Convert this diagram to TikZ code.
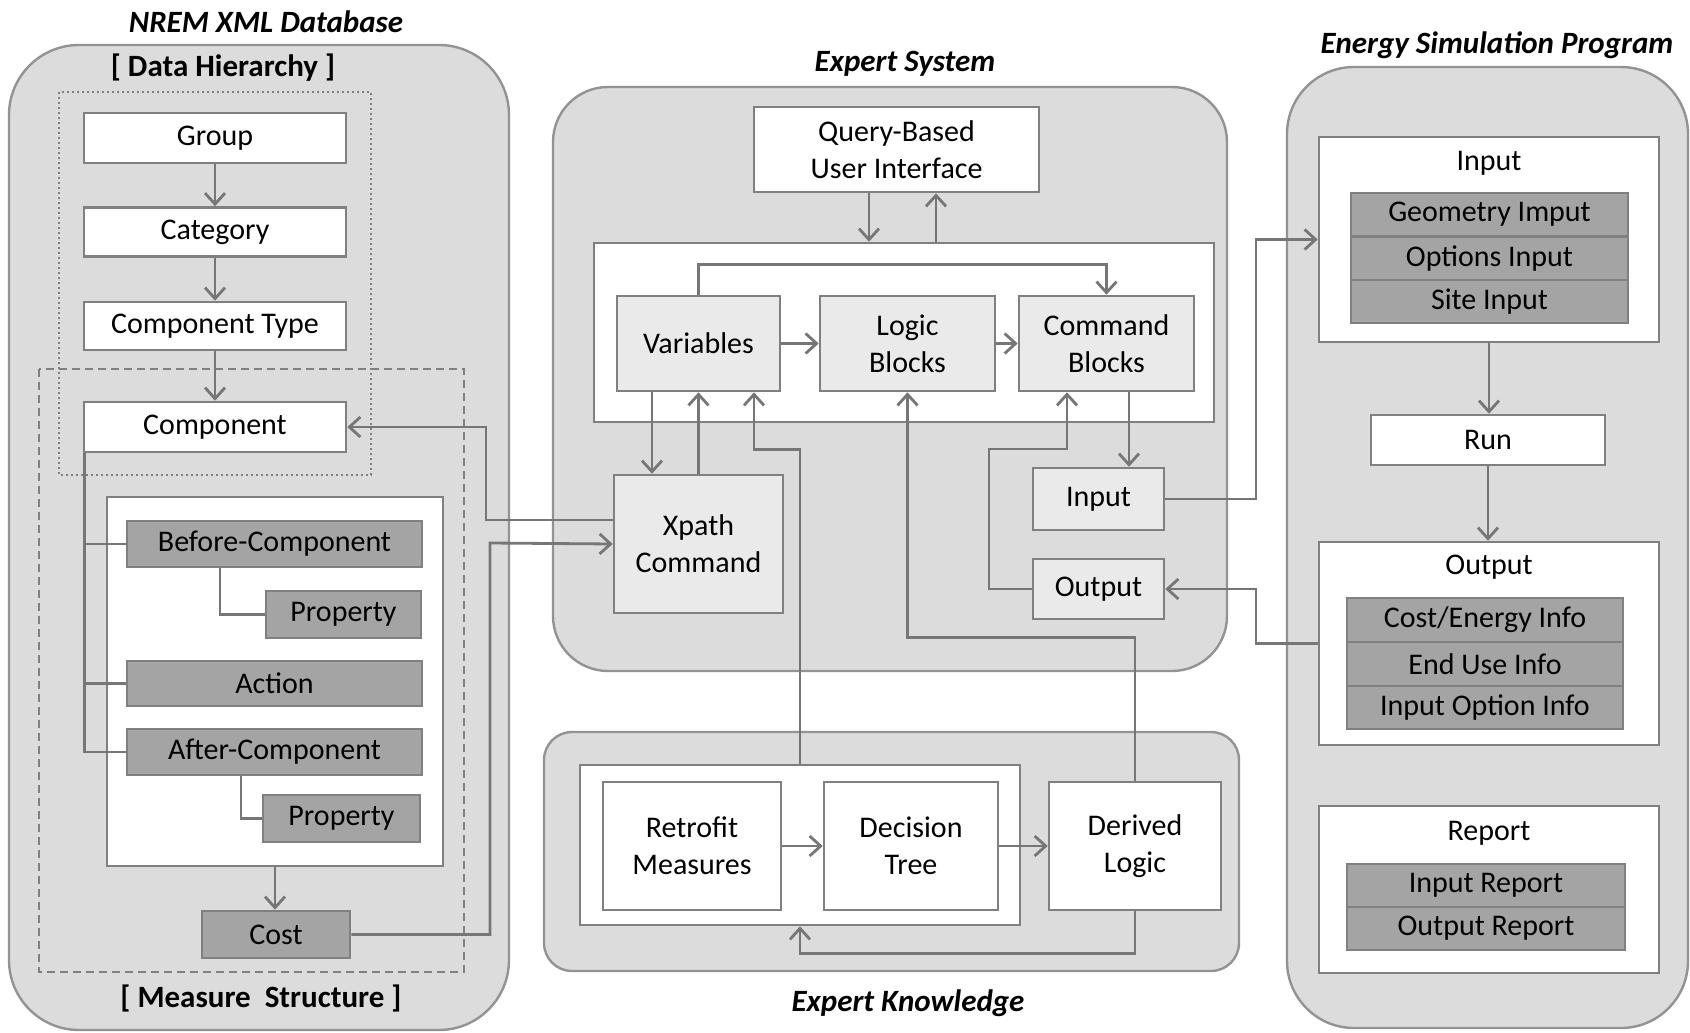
\documentclass[tikz,border=0pt]{standalone}
\usepackage{fontspec}
\setmainfont{Carlito}
\usetikzlibrary{arrows.meta}

\definecolor{panelgray}{HTML}{DCDCDC}
\definecolor{edgegray}{HTML}{808080}
\definecolor{boxgray}{HTML}{A4A4A4}
\definecolor{cellgray}{HTML}{EAEAEA}
\definecolor{linegray}{HTML}{767676}

\begin{document}
\begin{tikzpicture}[x=1pt,y=-1pt,
  font=\fontsize{30}{37}\selectfont,
  sz/.style 2 args={minimum width=#1pt,minimum height=#2pt},
  box/.style={draw=edgegray,line width=2.6pt,inner sep=2pt,align=center},
  wbox/.style={box,fill=white},
  lbox/.style={box,fill=cellgray},
  gbox/.style={box,fill=boxgray},
  panel/.style={draw=edgegray!85,line width=2.4pt,fill=panelgray},
  conn/.style={draw=linegray,line width=2.8pt},
  arr/.style={conn,-{Straight Barb[length=11pt,width=20pt]}},
  ttl/.style={font=\fontsize{31}{37}\selectfont\bfseries\itshape}]
\useasboundingbox (0,0) rectangle (1690,1033);
% NREM XML database
\draw[panel,rounded corners=70] (9,45) rectangle (509,1030);
\node[ttl] (nremt) at (266,22) {NREM XML Database};
\node[font=\fontsize{31}{37}\selectfont\bfseries] (dht) at (223,68) {[ Data Hierarchy ]};
\node[font=\fontsize{31}{37}\selectfont\bfseries] (mst) at (261,998) {[ Measure\ \ Structure ]};
\draw[edgegray,line width=2.4pt,dash pattern=on 2pt off 3pt] (59,92) rectangle (371,475);
\draw[edgegray,line width=2.4pt,dash pattern=on 8pt off 5pt] (39,369) rectangle (464,972);
\node[wbox,sz={262}{50}] (grp) at (215,138) {Group};
\node[wbox,sz={262}{49}] (cat) at (215,232) {Category};
\node[wbox,sz={262}{48}] (ctype) at (215,326) {Component Type};
\node[wbox,sz={262}{50}] (comp) at (215,427) {Component};
\node[wbox,sz={336}{369}] (mbox) at (275,681.5) {};
\node[gbox,sz={295}{46}] (bc) at (274.5,544) {Before-Component};
\node[gbox,sz={155}{47}] (p1) at (343.5,614.5) {Property};
\node[gbox,sz={295}{45}] (act) at (274.5,683.5) {Action};
\node[gbox,sz={295}{46}] (ac) at (274.5,752) {After-Component};
\node[gbox,sz={157}{47}] (p2) at (341.5,818.5) {Property};
\node[gbox,sz={148}{47}] (cost) at (276,934.5) {Cost};
% expert system
\draw[panel,rounded corners=55] (553,87) rectangle (1227,671);
\node[ttl] (est) at (905,64) {Expert System};
\node[wbox,sz={285}{85}] (qb) at (896.5,149.5) {Query-Based\\User Interface};
\node[wbox,sz={620}{179}] (es) at (904,332.5) {};
\node[lbox,sz={163}{95}] (var) at (698.5,343.5) {Variables};
\node[lbox,sz={175}{95}] (logic) at (907.5,343.5) {Logic\\Blocks};
\node[lbox,sz={175}{95}] (cmd) at (1106.5,343.5) {Command\\Blocks};
\node[lbox,sz={169}{138}] (xp) at (698.5,544) {Xpath\\Command};
\node[lbox,sz={131}{62}] (ein) at (1098.5,499) {Input};
\node[lbox,sz={131}{60}] (eout) at (1098.5,589) {Output};
% expert knowledge
\draw[panel,rounded corners=28] (544,732) rectangle (1239,971);
\node[ttl] (ekt) at (908,1003) {Expert Knowledge};
\node[wbox,sz={440}{160}] (kc) at (800,845) {};
\node[wbox,sz={178}{128}] (rm) at (692,846) {Retrofit\\Measures};
\node[wbox,sz={174}{128}] (dt) at (911,846) {Decision\\Tree};
\node[wbox,sz={172}{128}] (dl) at (1135,846) {Derived\\Logic};
% energy simulation program
\draw[panel,rounded corners=67] (1287,67) rectangle (1688,1028);
\node[ttl] (espt) at (1497,45) {Energy Simulation Program};
\node[wbox,sz={340}{205}] (sin) at (1489,239.5) {};
\node (sinl) at (1489,163) {Input};
\node[gbox,sz={277}{43}] (geo) at (1489.5,214.5) {Geometry Imput};
\node[gbox,sz={277}{43}] (opt) at (1489.5,258.5) {Options Input};
\node[gbox,sz={277}{43}] (site) at (1489.5,301.5) {Site Input};
\node[wbox,sz={234}{50}] (run) at (1488,440) {Run};
\node[wbox,sz={340}{203}] (sout) at (1489,643.5) {};
\node (soutl) at (1489,567) {Output};
\node[gbox,sz={276}{44}] (ce) at (1485,620) {Cost/Energy Info};
\node[gbox,sz={276}{44}] (eu) at (1485,664) {End Use Info};
\node[gbox,sz={276}{43}] (io) at (1485,707.5) {Input Option Info};
\node[wbox,sz={340}{167}] (srep) at (1489,889.5) {};
\node (srepl) at (1489,833) {Report};
\node[gbox,sz={278}{43}] (ir) at (1486,885.5) {Input Report};
\node[gbox,sz={278}{43}] (orp) at (1486,928.5) {Output Report};
% connectors
\draw[arr] (grp) -- (cat);
\draw[arr] (cat) -- (ctype);
\draw[arr] (ctype) -- (comp);
\draw[conn] ([xshift=2]comp.south west) |- (bc.west);
\draw[conn] ([xshift=2]comp.south west) |- (act.west);
\draw[conn] ([xshift=2]comp.south west) |- (ac.west);
\draw[conn] ([xshift=-54.5]bc.south) |- (p1.west);
\draw[conn] ([xshift=-33.5]ac.south) |- (p2.west);
\draw[arr] (mbox.south) -- (mbox.south |- cost.north);
\draw[arr] ([yshift=24]xp.west) -- (486,520) |- (comp.east);
\draw[arr] (cost.east) -| (490,543) -- (xp.west);
\draw[arr] ([xshift=-27.5]qb.south) -- ([xshift=-27.5]qb.south |- es.north);
\draw[arr] ([xshift=39.5]qb.south |- es.north) -- ([xshift=39.5]qb.south);
\draw[arr] (var) -- (logic);
\draw[arr] (logic) -- (cmd);
\draw[arr] (var.north) -- ++(0,-30) -| (cmd.north);
\draw[arr] ([xshift=-46.5]var.south) -- ([xshift=-46.5]var.south |- xp.north);
\draw[arr] (xp.north) -- (var.south);
\draw[arr] (kc.north) -- ++(0,-314) -| ([xshift=55.5]var.south);
\draw[arr] (dl.north) -- ++(0,-143) -| (logic.south);
\draw[arr] (eout.west) -| (989,449) -| ([xshift=-39.5]cmd.south);
\draw[arr] ([xshift=22.5]cmd.south) -- ([xshift=22.5]cmd.south |- ein.north);
\draw[arr] (ein.east) -- (1256,499) |- (sin.west);
\draw[arr] (sout.west) -- (1256,643.5) |- (eout.east);
\draw[arr] (sin.south) -- (sin.south |- run.north);
\draw[arr] (run.south) -- (run.south |- sout.north);
\draw[arr] (rm) -- (dt);
\draw[arr] (dt) -- (dl);
\draw[arr] (dl.south) -- ++(0,42) -| (kc.south);
\end{tikzpicture}
\end{document}
